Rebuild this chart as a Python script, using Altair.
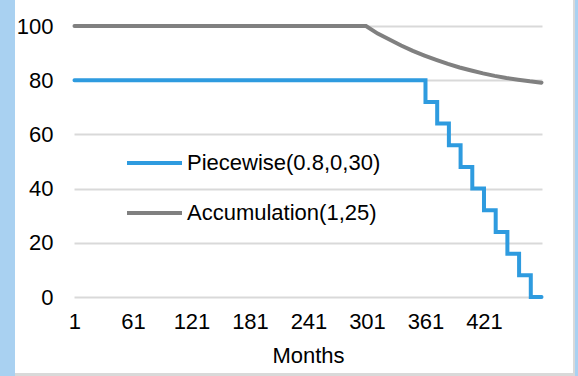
import altair as alt
import pandas as pd

# Piecewise(0.8,0,30): flat at 80 for 30 years, then one 8-point drop every 12 months
pw_months = [1, 361, 373, 385, 397, 409, 421, 433, 445, 457, 469, 480]
pw_values = [80, 72, 64, 56, 48, 40, 32, 24, 16, 8, 0, 0]

# Accumulation(1,25): flat at 100 until month 300, then easing toward ~79
acc_months = [1, 300, 312, 324, 336, 348, 360, 372, 384, 396, 408, 420, 432, 444, 456, 468, 480]
acc_values = [100, 100, 97.2, 95.0, 92.8, 90.8, 89.1, 87.5, 86.0, 84.7, 83.6, 82.5, 81.6, 80.8, 80.2, 79.6, 79.1]

series_names = ["Piecewise(0.8,0,30)", "Accumulation(1,25)"]
series_colors = ["#2E9BDF", "#808080"]

x_ticks = [1, 61, 121, 181, 241, 301, 361, 421]
y_ticks = [0, 20, 40, 60, 80, 100]

FONT = "Liberation Sans"
FS = 22

pw_df = pd.DataFrame({"month": pw_months, "value": pw_values, "series": series_names[0]})
acc_df = pd.DataFrame({"month": acc_months, "value": acc_values, "series": series_names[1]})

x_enc = alt.X(
    "month:Q",
    scale=alt.Scale(domain=[0.5, 480.5], nice=False, zero=False),
    axis=alt.Axis(
        values=x_ticks, title="Months", grid=False, ticks=False, domain=False,
        labelFlush=False, labelOverlap=False, labelPadding=14,
        titlePadding=13,
    ),
)
y_enc = alt.Y(
    "value:Q",
    scale=alt.Scale(domain=[0, 100], nice=False),
    axis=alt.Axis(
        values=y_ticks, title=None, ticks=False, domain=False,
        labelFlush=False, labelPadding=21,
        gridColor="#D9D9D9", gridWidth=2,
    ),
)
color_enc = alt.Color(
    "series:N",
    scale=alt.Scale(domain=series_names, range=series_colors),
    legend=alt.Legend(
        orient="none", legendX=51, legendY=113, title=None,
        symbolType="stroke", symbolSize=3025, symbolStrokeWidth=4,
        labelFont=FONT, labelFontSize=FS, labelColor="#000000", labelLimit=0,
        labelOffset=3, clipHeight=48, rowPadding=2, padding=0,
    ),
)

acc_line = alt.Chart(acc_df).mark_line(strokeWidth=4, strokeCap="round").encode(
    x=x_enc, y=y_enc, color=color_enc
)
pw_line = alt.Chart(pw_df).mark_line(
    strokeWidth=4, strokeCap="round", interpolate="step-after"
).encode(x=x_enc, y=y_enc, color=color_enc)

# frame around the chart: blue strip on the left, thin gray/blue edges right and bottom
one = pd.DataFrame({"k": [0]})
left_strip = alt.Chart(one).mark_rect(color="#A9D1F1").encode(
    x=alt.value(-74), x2=alt.value(-59), y=alt.value(-26), y2=alt.value(350)
)
bottom_edge = alt.Chart(one).mark_rect(color="#D9D9D9").encode(
    x=alt.value(-59), x2=alt.value(501), y=alt.value(347), y2=alt.value(350)
)
right_edge = alt.Chart(one).mark_rect(color="#D9D9D9").encode(
    x=alt.value(499), x2=alt.value(501), y=alt.value(-26), y2=alt.value(350)
)
right_strip = alt.Chart(one).mark_rect(color="#A9D1F1").encode(
    x=alt.value(501), x2=alt.value(504), y=alt.value(-26), y2=alt.value(350)
)

chart = (
    alt.layer(left_strip, bottom_edge, right_edge, right_strip, acc_line, pw_line)
    .properties(
        width=468, height=271,
        padding={"left": 74, "top": 26, "right": 36, "bottom": 79},
        autosize=alt.AutoSizeParams(type="none"),
        background="#FFFFFF",
    )
    .configure_view(strokeWidth=0)
    .configure_axis(
        labelFont=FONT, labelFontSize=FS, labelColor="#000000",
        titleFont=FONT, titleFontSize=FS, titleColor="#000000", titleFontWeight="normal",
    )
)

chart.save("out.html", embed_options={"renderer": "svg", "actions": False})
